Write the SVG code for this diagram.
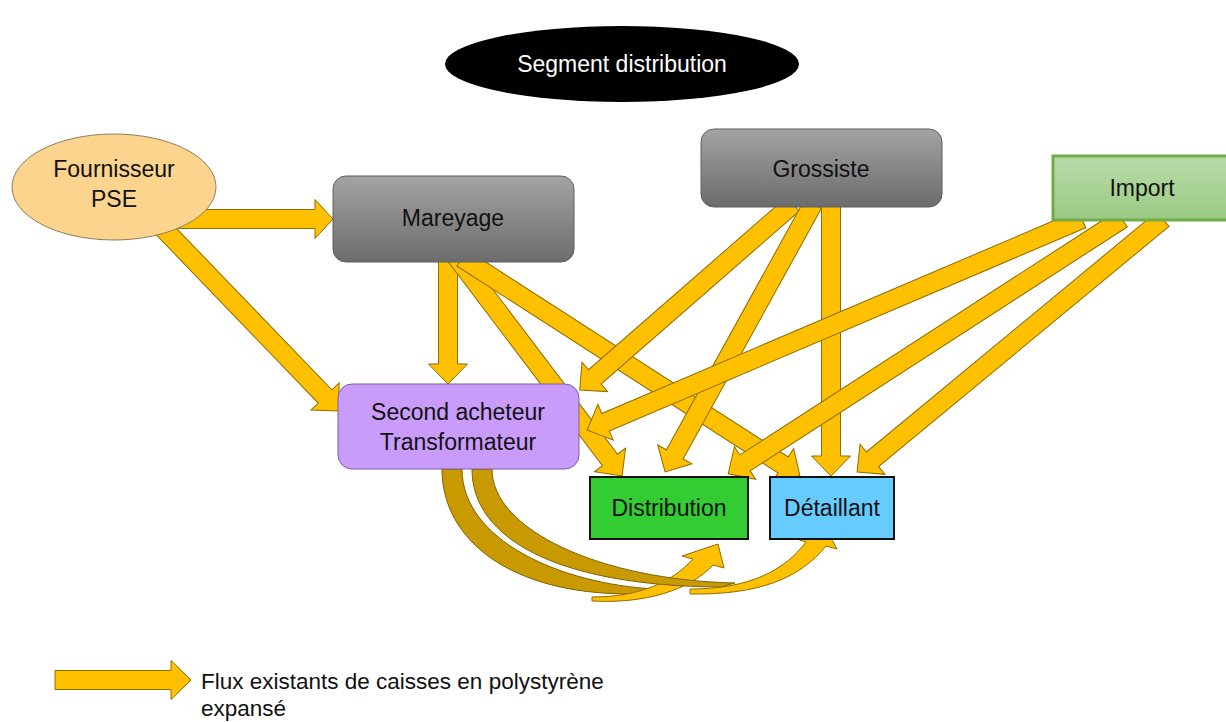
<svg xmlns="http://www.w3.org/2000/svg" width="1226" height="722" viewBox="0 0 1226 722">
<defs>
<linearGradient id="gray" x1="0" y1="0" x2="0" y2="1"><stop offset="0" stop-color="#a3a3a3"/><stop offset="1" stop-color="#6c6c6c"/></linearGradient>
<linearGradient id="green" x1="0" y1="0" x2="0" y2="1"><stop offset="0" stop-color="#b9dbaa"/><stop offset="1" stop-color="#9bca84"/></linearGradient>
</defs>
<style>
.arr{fill:#ffc000;stroke:#8c6d00;stroke-width:1}
.dk{fill:#c99a00;stroke:#7f6000;stroke-width:1}
text{font-family:"Liberation Sans",Arial,sans-serif;font-size:23px;fill:#111;text-anchor:middle}
.gray{fill:url(#gray);stroke:#5e5e5e;stroke-width:1}
</style>
<rect width="1226" height="722" fill="#fff"/>
<g id="connectors">
<polygon class="arr" transform="translate(170,219)" points="0,-9.5 145,-9.5 145,-19.5 163,0 145,19.5 145,9.5 0,9.5"/>
<polygon class="arr" transform="translate(160,225) rotate(46.1)" points="0,-9.5 238,-9.5 238,-19.5 258,0 238,19.5 238,9.5 0,9.5"/>
<polygon class="arr" transform="translate(448,255) rotate(90)" points="0,-9.5 109,-9.5 109,-19.5 129,0 109,19.5 109,9.5 0,9.5"/>
<polygon class="arr" transform="translate(455,255) rotate(52.9)" points="0,-9.5 257,-9.5 257,-19.5 277,0 257,19.5 257,9.5 0,9.5"/>
<polygon class="arr" transform="translate(462,258) rotate(32.8)" points="0,-9.5 382,-9.5 382,-19.5 402,0 382,19.5 382,9.5 0,9.5"/>
<polygon class="arr" transform="translate(793,204) rotate(138.9)" points="0,-9.5 263,-9.5 263,-19.5 283,0 263,19.5 263,9.5 0,9.5"/>
<polygon class="arr" transform="translate(813,204) rotate(118.9)" points="0,-9.5 286,-9.5 286,-19.5 306,0 286,19.5 286,9.5 0,9.5"/>
<polygon class="arr" transform="translate(831,204) rotate(90)" points="0,-9.5 252,-9.5 252,-19.5 272,0 252,19.5 252,9.5 0,9.5"/>
<polygon class="arr" transform="translate(1082,219) rotate(156.9)" points="0,-9.5 518,-9.5 518,-19.5 538,0 518,19.5 518,9.5 0,9.5"/>
<polygon class="arr" transform="translate(1122,219) rotate(147.1)" points="0,-9.5 449,-9.5 449,-19.5 469,0 449,19.5 449,9.5 0,9.5"/>
<polygon class="arr" transform="translate(1163,219) rotate(140.4)" points="0,-9.5 377,-9.5 377,-19.5 397,0 377,19.5 377,9.5 0,9.5"/>
<path class="dk" d="M442,469 C442,540 510,594 630,594 L655,589 C560,584 462,540 462,469 Z"/>
<path class="arr" d="M592,597 C640,597 672,582 693,559 L682,556 L718,544 L724,568 L713,565 C690,590 645,604 592,601 Z"/>
<path class="dk" d="M472,469 C472,540 560,586 720,587 L735,583 C600,580 492,530 492,469 Z"/>
<path class="arr" d="M690,589 C750,589 785,570 806,542 L797,539 L825,527 L837,549 L826,546 C800,578 760,595 690,594 Z"/>
</g>
<g id="segment">
<ellipse cx="622" cy="64" rx="177" ry="38" fill="#000"/>
<text x="622" y="72" style="fill:#fff">Segment distribution</text>
</g>
<g id="fournisseur">
<ellipse cx="114" cy="187" rx="102" ry="53" fill="#fcd48e" stroke="#8f7d5a" stroke-width="1"/>
<text x="114" y="177">Fournisseur</text>
<text x="114" y="207">PSE</text>
</g>
<g id="mareyage">
<rect class="gray" x="333" y="176" width="241" height="86" rx="13"/>
<text x="453" y="226">Mareyage</text>
</g>
<g id="grossiste">
<rect class="gray" x="701" y="129" width="241" height="78" rx="13"/>
<text x="821" y="177">Grossiste</text>
</g>
<g id="import">
<rect x="1053" y="156" width="180" height="64" fill="url(#green)" stroke="#70ad47" stroke-width="3"/>
<text x="1142" y="196">Import</text>
</g>
<g id="second">
<rect x="338" y="384" width="241" height="85" rx="14" fill="#c99bfb" stroke="#7f5f9f" stroke-width="1"/>
<text x="458" y="420">Second acheteur</text>
<text x="458" y="450">Transformateur</text>
</g>
<g id="distribution">
<rect x="590" y="477" width="158" height="62" fill="#33cc33" stroke="#111" stroke-width="2"/>
<text x="669" y="516">Distribution</text>
</g>
<g id="detaillant">
<rect x="770" y="477" width="124" height="62" fill="#66ccff" stroke="#111" stroke-width="2"/>
<text x="832" y="516">Détaillant</text>
</g>
<g id="legend">
<polygon class="arr" transform="translate(55,680)" points="0,-9.5 116,-9.5 116,-19.5 136,0 116,19.5 116,9.5 0,9.5"/>
<text x="201" y="689" style="text-anchor:start;font-size:22.5px">Flux existants de caisses en polystyrène</text>
<text x="201" y="716" style="text-anchor:start;font-size:22.5px">expansé</text>
</g>
</svg>
